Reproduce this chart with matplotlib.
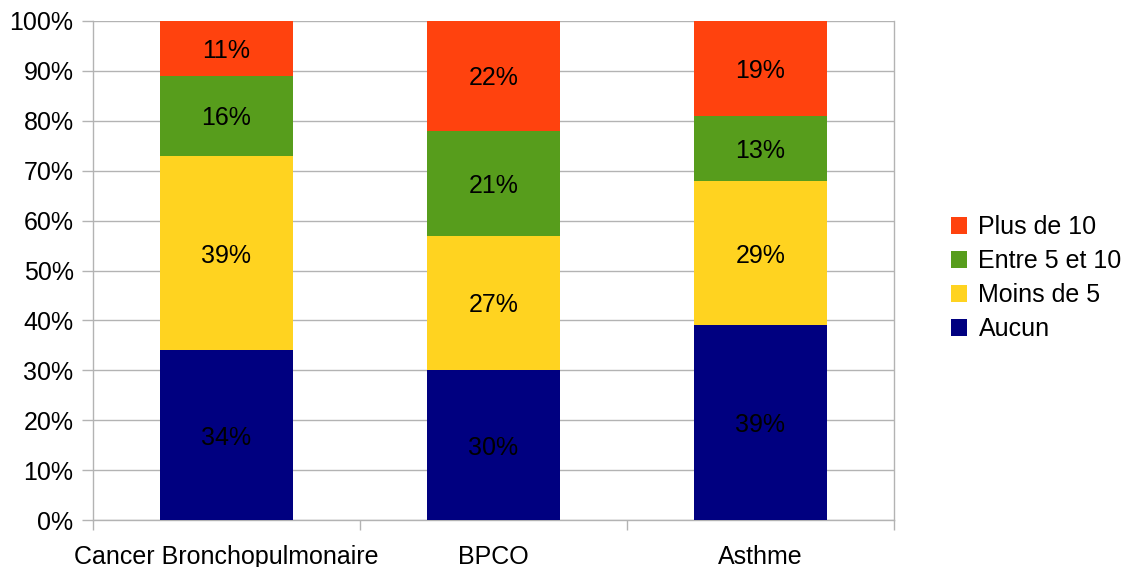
import matplotlib
matplotlib.use("Agg")
import matplotlib.pyplot as plt
import numpy as np
from matplotlib.ticker import FixedLocator, PercentFormatter

plt.rcParams['font.family'] = ['Liberation Sans', 'DejaVu Sans']

categories = ["Cancer Bronchopulmonaire", "BPCO", "Asthme"]
series_names = ["Aucun", "Moins de 5", "Entre 5 et 10", "Plus de 10"]
aucun = [34, 30, 39]
moins_de_5 = [39, 27, 29]
entre_5_et_10 = [16, 21, 13]
plus_de_10 = [11, 22, 19]
colors = ["#000080", "#FFD320", "#579D1C", "#FF420E"]

series = [aucun, moins_de_5, entre_5_et_10, plus_de_10]
FS = 18

fig = plt.figure(figsize=(11.29, 5.67), dpi=100)
ax = fig.add_axes([93/1129, 1-520/567, (894-93)/1129, (520-21)/567])

x = np.arange(len(categories))
bottom = np.zeros(len(categories))
handles = []
for name, vals, col in zip(series_names, series, colors):
    vals = np.array(vals, dtype=float)
    bars = ax.bar(x, vals, 0.5, bottom=bottom, color=col, label=name, zorder=3)
    handles.append(bars)
    for xi, b, v in zip(x, bottom, vals):
        ax.text(xi, b + v/2, f"{int(v)}%", ha='center', va='center_baseline',
                fontsize=FS, color='black', zorder=4)
    bottom += vals

ax.set_xlim(-0.5, len(categories) - 0.5)
ax.set_ylim(0, 100)
ax.yaxis.set_major_locator(FixedLocator(np.arange(0, 101, 10)))
ax.yaxis.set_major_formatter(PercentFormatter(decimals=0))
ax.set_xticks(x)
ax.set_xticklabels(categories)
ax.set_xticks(np.arange(-0.5, len(categories), 1.0), minor=True)

grid_col = "#b3b3b3"
ax.grid(axis='y', color=grid_col, linewidth=1, zorder=0)
for s in ['left', 'right']:
    ax.spines[s].set_color(grid_col)
    ax.spines[s].set_linewidth(1)
ax.spines['top'].set_visible(False)
ax.spines['bottom'].set_color(grid_col)
ax.spines['bottom'].set_linewidth(1)

ax.tick_params(axis='y', length=8, width=1, color=grid_col, pad=6, labelsize=FS)
ax.tick_params(axis='x', which='major', length=0, pad=18, labelsize=FS)
ax.tick_params(axis='x', which='minor', length=7, width=1, color=grid_col)
ax.tick_params(axis='y', which='minor', length=0)

leg = ax.legend(handles[::-1], series_names[::-1], loc='center left',
                bbox_to_anchor=(951/1129, 0.5 + (567/2 - 278)/567),
                bbox_transform=fig.transFigure, frameon=False, fontsize=FS,
                handlelength=0.65, handleheight=0.65, handletextpad=0.45,
                labelspacing=0.4, borderaxespad=0, borderpad=0)

fig.savefig("out.png", dpi=100)
